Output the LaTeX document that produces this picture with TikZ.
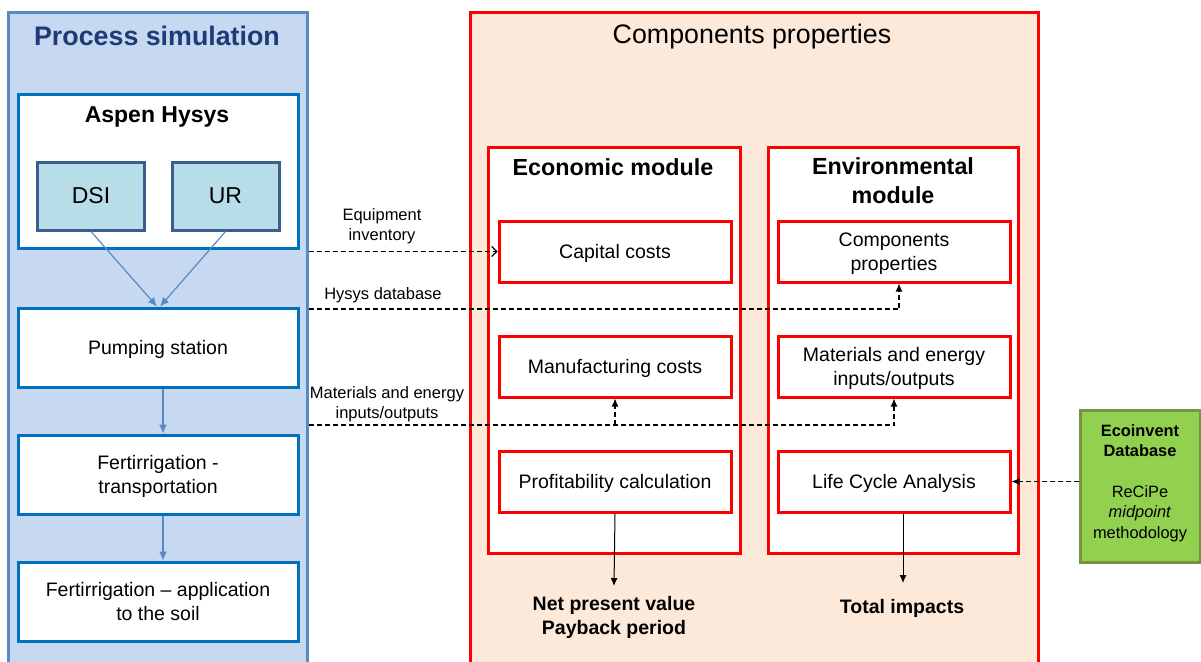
\documentclass[tikz,border=0pt]{standalone}
\usepackage{fontspec}
\setmainfont{Liberation Sans}
\usetikzlibrary{arrows.meta,chains,positioning}
\definecolor{simfill}{HTML}{C6D9F1}
\definecolor{simline}{HTML}{5A8AC6}
\definecolor{simtitle}{HTML}{1F3A78}
\definecolor{boxblue}{HTML}{0070C0}
\definecolor{dsifill}{HTML}{B7DDE8}
\definecolor{dsiline}{HTML}{3B5E8C}
\definecolor{peach}{HTML}{FDE9D9}
\definecolor{ecofill}{HTML}{92D050}
\definecolor{ecoline}{HTML}{77933C}

\tikzset{
  bluebox/.style={draw=boxblue,line width=3pt,fill=white,minimum width=280pt,inner sep=0pt,text depth=0pt,align=center,font=\fontsize{19.5}{24}\selectfont},
  redbox/.style={draw=red,line width=3pt,fill=white,minimum width=232pt,minimum height=61pt,inner sep=0pt,text depth=0pt,align=center,font=\fontsize{19.5}{24}\selectfont},
  modbox/.style={draw=red,line width=3pt,fill=white,minimum height=406pt,inner sep=0pt},
  srcbox/.style={draw=dsiline,fill=dsifill,line width=3pt,minimum width=107pt,minimum height=68pt,font=\fontsize{23}{28}\selectfont},
  flow/.style={draw=simline,line width=1.2pt,-{Latex[length=9pt,width=8pt]}},
  link/.style={line width=1.1pt,dash pattern=on 5pt off 3pt},
  tip/.style={-{Latex[length=8pt,width=7pt]}},
  lab/.style={font=\fontsize{16.5}{20}\selectfont,align=center,inner sep=0pt},
  outtxt/.style={font=\bfseries\fontsize{19.5}{24}\selectfont,align=center,inner sep=0pt},
}

\begin{document}
\begin{tikzpicture}[x=1pt,y=-1pt]
\useasboundingbox (0,0) rectangle (1201,661);
\clip (0,0) rectangle (1201,661);

% process simulation
\node[draw=simline,fill=simfill,line width=3pt,minimum width=299pt,minimum height=700pt,inner sep=0pt] (sim) at (157.5,363) {};
\node[text=simtitle,font=\bfseries\fontsize{26.8}{30}\selectfont] (simt) at (157,36) {Process simulation};

\node[bluebox,minimum height=154pt] (aspen) at (158,171) {};
\node[font=\bfseries\fontsize{23}{28}\selectfont] (aspent) at (157,117) {Aspen Hysys};
\node[srcbox] (dsi) at (91,196) {DSI};
\node[srcbox] (ur) at (225.5,196) {UR};

\begin{scope}[shift={(158,347.5)},start chain=going below,node distance=45pt]
\def\sphr{1/{Pumping station},2/{Fertirrigation -\\transportation},3/{Fertirrigation -- application\\to the soil}}
\foreach \i / \element in \sphr
  \node [on chain,bluebox,minimum height=79pt] (p\i) {\element};
\end{scope}

\draw[flow] (dsi.south) -- ([xshift=-1pt]p1.north);
\draw[flow] (ur.south) -- ([xshift=2pt]p1.north);
\foreach \i / \j in {1/2,2/3}
  \draw[flow] ([xshift=5pt]p\i.south) -- ([xshift=5pt]p\j.north);

% components properties
\node[draw=red,fill=peach,line width=3pt,minimum width=568pt,minimum height=700pt,inner sep=0pt] (comp) at (754,363) {};
\node[font=\fontsize{26.8}{30}\selectfont] (compt) at (752,37) {Components properties};

\node[modbox,minimum width=252pt] (econ) at (614,350) {};
\node[modbox,minimum width=250pt] (env) at (893,350) {};
\node[font=\bfseries\fontsize{23.3}{29}\selectfont] (econt) at (613,167) {Economic module};
\node[font=\bfseries\fontsize{23.3}{29}\selectfont,align=center] (envt) at (893,181) {Environmental\\module};

\begin{scope}[shift={(615,251.5)},start chain=going below,node distance=51pt]
\def\ecphr{1/{Capital costs},2/{Manufacturing costs},3/{Profitability calculation}}
\foreach \i / \element in \ecphr
  \node [on chain,redbox] (ec\i) {\element};
\end{scope}

\begin{scope}[shift={(894,251.5)},start chain=going below,node distance=51pt]
\def\enphr{1/{Components\\properties},2/{Materials and energy\\inputs/outputs},3/{Life Cycle Analysis}}
\foreach \i / \element in \enphr
  \node [on chain,redbox] (en\i) {\element};
\end{scope}

\node[draw=ecoline,fill=ecofill,line width=3pt,minimum width=120pt,minimum height=152pt,inner sep=0pt,text depth=9.5pt,align=center,font=\fontsize{16.4}{20.5}\selectfont] (eco) at (1140,486)
  {\textbf{Ecoinvent}\\\textbf{Database}\\[20pt]ReCiPe\\\textit{midpoint}\\methodology};

% links
\coordinate (hys) at (308.5,309);
\coordinate (mat) at (308.5,425);
\draw[link,-{Straight Barb[length=5pt,width=10pt]}] (sim.east |- ec1.west) -- (ec1.west);
\draw[link,tip] (hys) -| ([xshift=5pt]en1.south);
\draw[link,tip] (mat) -| (en2.south);
\draw[link,tip] (ec2.south |- mat) -- (ec2.south);
\draw[link,tip] (eco.west |- en3.east) -- (en3.east);
\node[lab] (equipt) at (382,226) {Equipment\\inventory};
\node[lab] (hyst) at (383,295) {Hysys database};
\node[lab] (matt) at (387,404) {Materials and energy\\inputs/outputs};

% results
\coordinate (npvin) at (614,586);
\coordinate (totin) at (903,583);
\draw[line width=1pt,tip] (ec3.south) -- (npvin);
\draw[line width=1pt,tip] ([xshift=9pt]en3.south) -- (totin);
\node[outtxt] (npv) at (614,617) {Net present value\\Payback period};
\node[outtxt] (tot) at (902,608) {Total impacts};

\end{tikzpicture}
\end{document}
